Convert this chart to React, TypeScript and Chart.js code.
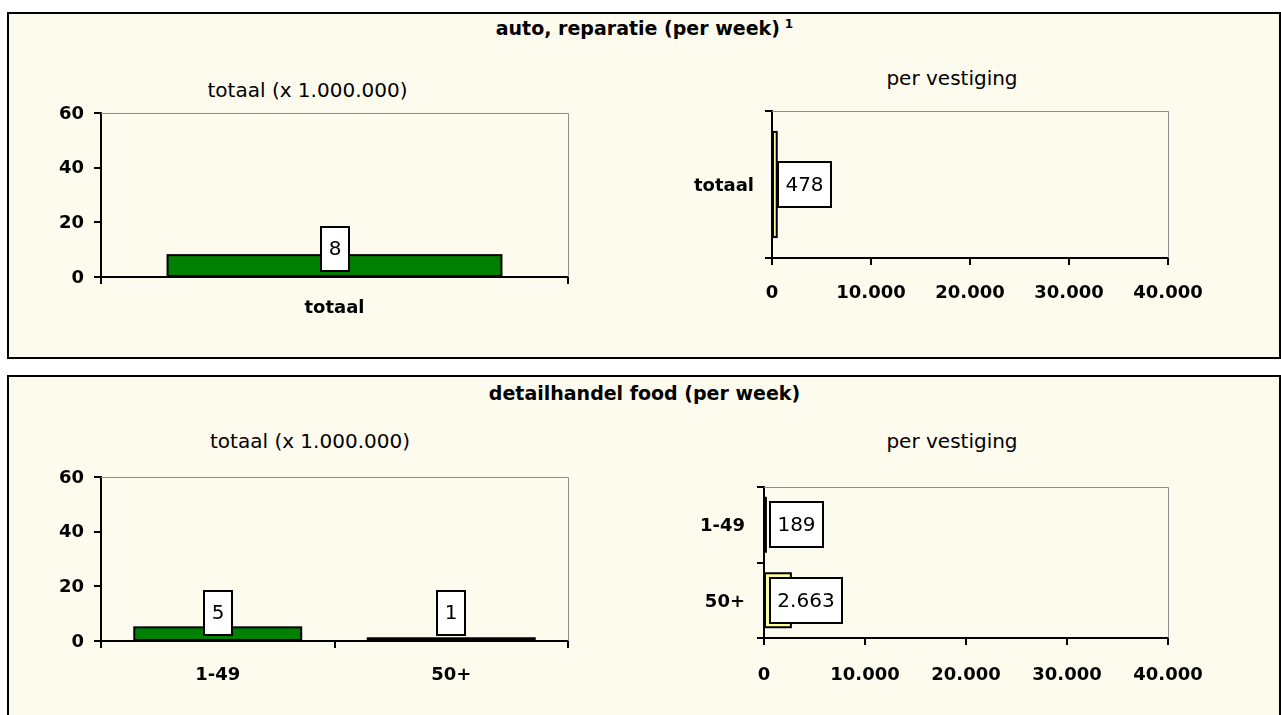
import React, { useEffect, useRef } from 'react';
import { Chart, registerables } from 'chart.js';

Chart.register(...registerables);

const FONT = "'DejaVu Sans', Verdana, sans-serif";
const CREAM = '#FDFBEE';
const GREEN = '#008000';
const YELLOW = '#FFFF99';

// ---- data ----
const autoTitle = 'auto, reparatie (per week)';
const autoFootnote = '1';
const autoCategories = ['totaal'];
const autoTotaal = [8];
const autoPerVestiging = [478];

const foodTitle = 'detailhandel food (per week)';
const foodCategories = ['1-49', '50+'];
const foodTotaal = [5, 1];
const foodPerVestiging = [189, 2663];

const totaalSubtitle = 'totaal (x 1.000.000)';
const vestigingSubtitle = 'per vestiging';
const totaalTicks = [0, 20, 40, 60];
const vestigingTicks = [0, 10000, 20000, 30000, 40000];

function fmt(n: number): string {
  return String(n).replace(/\B(?=(\d{3})+(?!\d))/g, '.');
}

type Geo = {
  left: number; top: number; width: number; height: number;
  padT: number; padR: number; yW: number; xH: number;
  xTickPad: number; yTickPad: number; yLabelOffset: number;
};

const plotFrame = {
  id: 'plotFrame',
  beforeDatasetsDraw(chart: any) {
    const { ctx, chartArea: a } = chart;
    ctx.save();
    ctx.strokeStyle = '#8C8C8C';
    ctx.lineWidth = 1;
    ctx.beginPath();
    ctx.moveTo(a.left, a.top + 0.5);
    ctx.lineTo(a.right + 0.5, a.top + 0.5);
    ctx.lineTo(a.right + 0.5, a.bottom);
    ctx.stroke();
    ctx.restore();
  },
};

// Excel-like outline (stroke centred on the bar edge) plus boxed value labels
function barDecor(horizontal: boolean) {
  return {
    id: 'barDecor',
    afterDatasetsDraw(chart: any) {
      const ctx = chart.ctx;
      const meta = chart.getDatasetMeta(0);
      const data = chart.data.datasets[0].data as number[];
      ctx.save();
      meta.data.forEach((el: any) => {
        const { x, y, base, width, height } = el.getProps(['x', 'y', 'base', 'width', 'height'], true);
        let rx: number, ry: number, rw: number, rh: number;
        if (horizontal) {
          rx = Math.min(base, x); rw = Math.abs(x - base);
          ry = y - height / 2; rh = height;
        } else {
          rx = x - width / 2; rw = width;
          ry = Math.min(base, y); rh = Math.abs(base - y);
        }
        ctx.strokeStyle = '#000000';
        ctx.lineWidth = 2;
        ctx.strokeRect(rx, ry, rw, rh);
      });

      ctx.font = `20px ${FONT}`;
      ctx.textAlign = 'center';
      ctx.textBaseline = 'middle';
      meta.data.forEach((el: any, i: number) => {
        const { x, y, base } = el.getProps(['x', 'y', 'base'], true);
        const text = fmt(data[i]);
        const tw = ctx.measureText(text).width;
        const bw = Math.round(tw + 15);
        let bx: number, by: number, bh: number;
        if (horizontal) {
          bh = 45;
          bx = Math.round(base + 5);
          by = Math.round(y - bh / 2);
        } else {
          bh = 44;
          bx = Math.round(x - bw / 2);
          by = Math.round(base - 5 - bh);
        }
        ctx.fillStyle = '#FFFFFF';
        ctx.fillRect(bx, by, bw, bh);
        ctx.strokeStyle = '#000000';
        ctx.lineWidth = 2;
        ctx.strokeRect(bx, by, bw, bh);
        ctx.fillStyle = '#000000';
        ctx.fillText(text, bx + bw / 2, by + bh / 2 + 1);
      });
      ctx.restore();
    },
  };
}

function BarChart(props: {
  horizontal: boolean;
  labels: string[];
  values: number[];
  color: string;
  ticks: number[];
  geo: Geo;
}) {
  const ref = useRef<HTMLCanvasElement>(null);
  const { horizontal, labels, values, color, ticks, geo } = props;

  useEffect(() => {
    const tickFont = { family: FONT, size: 18, weight: 'bold' as const };
    const axisGrid = {
      drawOnChartArea: false,
      drawTicks: true,
      tickLength: 7,
      color: '#000000',
      lineWidth: 2,
    };
    const border = { display: true, color: '#000000', width: 2 };
    const valueAxis: any = {
      type: 'linear',
      min: ticks[0],
      max: ticks[ticks.length - 1],
      ticks: {
        stepSize: ticks[1] - ticks[0],
        font: tickFont,
        color: '#000000',
        padding: horizontal ? geo.xTickPad : geo.yTickPad,
        labelOffset: horizontal ? 0 : geo.yLabelOffset,
        autoSkip: false,
        maxRotation: 0,
        minRotation: 0,
        callback: (v: any) => fmt(Number(v)),
      },
      grid: { ...axisGrid },
      border,
    };
    const catAxis: any = {
      type: 'category',
      offset: true,
      ticks: {
        font: tickFont,
        color: '#000000',
        padding: horizontal ? geo.yTickPad : geo.xTickPad,
        labelOffset: horizontal ? geo.yLabelOffset : 0,
        autoSkip: false,
        maxRotation: 0,
        minRotation: 0,
      },
      grid: { ...axisGrid, offset: true },
      border,
    };
    const xAxis = horizontal ? valueAxis : catAxis;
    const yAxis = horizontal ? catAxis : valueAxis;
    xAxis.afterFit = (s: any) => { s.height = geo.xH; };
    yAxis.afterFit = (s: any) => { s.width = geo.yW; };

    const chart = new Chart(ref.current as HTMLCanvasElement, {
      type: 'bar',
      data: {
        labels,
        datasets: [
          {
            data: values,
            backgroundColor: color,
            borderWidth: 0,
            inflateAmount: 0,
            categoryPercentage: 1,
            barPercentage: 0.715,
          },
        ],
      },
      options: {
        indexAxis: horizontal ? 'y' : 'x',
        responsive: true,
        maintainAspectRatio: false,
        animation: false,
        layout: { padding: { left: 0, right: geo.padR, top: geo.padT, bottom: 0 } },
        plugins: {
          legend: { display: false },
          tooltip: { enabled: false },
          title: { display: false },
        },
        scales: { x: xAxis, y: yAxis },
      },
      plugins: [plotFrame, barDecor(horizontal)],
    } as any);
    return () => chart.destroy();
  }, []);

  return (
    <div style={{ position: 'absolute', left: geo.left, top: geo.top, width: geo.width, height: geo.height }}>
      <canvas ref={ref} />
    </div>
  );
}

const geoTopLeft: Geo = { left: 20, top: 60, width: 574, height: 290, padT: 53, padR: 26, yW: 81, xH: 73, xTickPad: 14, yTickPad: 10, yLabelOffset: 1 };
const geoTopRight: Geo = { left: 690, top: 50, width: 548, height: 290, padT: 61, padR: 70, yW: 82, xH: 82, xTickPad: 18, yTickPad: 11, yLabelOffset: 2 };
const geoBottomLeft: Geo = { left: 20, top: 425, width: 574, height: 290, padT: 52, padR: 26, yW: 81, xH: 74, xTickPad: 17, yTickPad: 10, yLabelOffset: 1 };
const geoBottomRight: Geo = { left: 690, top: 425, width: 548, height: 290, padT: 62, padR: 70, yW: 74, xH: 77, xTickPad: 20, yTickPad: 12, yLabelOffset: 2 };

const panelStyle: React.CSSProperties = {
  position: 'absolute',
  left: 7,
  width: 1274,
  border: '2px solid #000',
  boxSizing: 'border-box',
  background: CREAM,
};

const titleStyle: React.CSSProperties = {
  position: 'absolute',
  left: 8,
  width: 1273,
  height: 24,
  lineHeight: '24px',
  textAlign: 'center',
  fontFamily: FONT,
  fontWeight: 'bold',
  fontSize: 19,
  color: '#000',
  whiteSpace: 'nowrap',
};

function Subtitle(props: { text: string; cx: number; top: number }) {
  return (
    <div
      style={{
        position: 'absolute',
        left: props.cx - 200,
        width: 400,
        top: props.top,
        height: 24,
        lineHeight: '24px',
        textAlign: 'center',
        fontFamily: FONT,
        fontSize: 20,
        color: '#000',
        whiteSpace: 'nowrap',
      }}
    >
      {props.text}
    </div>
  );
}

export default function App() {
  return (
    <div style={{ position: 'absolute', left: 0, top: 0, width: 1281, height: 715, overflow: 'hidden', background: '#fff' }}>
      <div style={{ ...panelStyle, top: 12, height: 347 }} />
      <div style={{ ...panelStyle, top: 375, height: 400 }} />
      <div style={{ ...titleStyle, top: 16 }}>
        {autoTitle}
        <span style={{ fontSize: 12, position: 'relative', top: -7, marginLeft: 5 }}>{autoFootnote}</span>
      </div>
      <div style={{ ...titleStyle, top: 381 }}>{foodTitle}</div>
      <Subtitle text={totaalSubtitle} cx={307.5} top={78} />
      <Subtitle text={vestigingSubtitle} cx={952} top={66} />
      <Subtitle text={totaalSubtitle} cx={310} top={429} />
      <Subtitle text={vestigingSubtitle} cx={952} top={429} />
      <BarChart horizontal={false} labels={autoCategories} values={autoTotaal} color={GREEN} ticks={totaalTicks} geo={geoTopLeft} />
      <BarChart horizontal={true} labels={autoCategories} values={autoPerVestiging} color={YELLOW} ticks={vestigingTicks} geo={geoTopRight} />
      <BarChart horizontal={false} labels={foodCategories} values={foodTotaal} color={GREEN} ticks={totaalTicks} geo={geoBottomLeft} />
      <BarChart horizontal={true} labels={foodCategories} values={foodPerVestiging} color={YELLOW} ticks={vestigingTicks} geo={geoBottomRight} />
    </div>
  );
}
